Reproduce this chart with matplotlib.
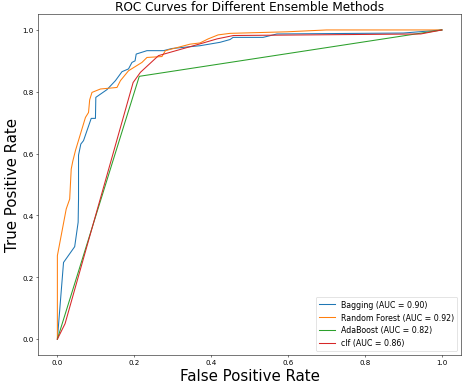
import matplotlib
matplotlib.use('Agg')
import matplotlib.pyplot as plt

# ROC points
bag_fpr = [0.0, 0.016, 0.045, 0.054, 0.055, 0.055, 0.061, 0.068, 0.073, 0.088, 0.099, 0.100, 0.129,
           0.151, 0.168, 0.185, 0.194, 0.202, 0.205, 0.233, 0.276, 0.298, 0.371, 0.423, 0.449,
           0.457, 0.535, 0.571, 0.900, 1.0]
bag_tpr = [0.0, 0.248, 0.299, 0.378, 0.453, 0.595, 0.631, 0.642, 0.660, 0.714, 0.714, 0.782, 0.807,
           0.836, 0.865, 0.874, 0.895, 0.900, 0.922, 0.933, 0.933, 0.940, 0.949, 0.960, 0.969,
           0.976, 0.976, 0.987, 0.990, 1.0]

rf_fpr = [0.0, 0.0, 0.023, 0.032, 0.036, 0.040, 0.047, 0.073, 0.081, 0.084, 0.090, 0.112, 0.155,
          0.164, 0.185, 0.220, 0.233, 0.272, 0.281, 0.345, 0.371, 0.392, 0.418, 0.449, 0.597,
          0.700, 1.0]
rf_tpr = [0.0, 0.270, 0.421, 0.453, 0.550, 0.575, 0.610, 0.717, 0.733, 0.774, 0.798, 0.809, 0.814,
          0.836, 0.868, 0.895, 0.911, 0.914, 0.933, 0.954, 0.958, 0.971, 0.984, 0.989, 0.994,
          1.0, 1.0]

ada_fpr = [0.0, 0.213, 1.0]
ada_tpr = [0.0, 0.850, 1.0]

clf_fpr = [0.0, 0.020, 0.197, 0.216, 0.263, 0.371, 0.415, 0.458, 0.945, 1.0]
clf_tpr = [0.0, 0.050, 0.830, 0.863, 0.917, 0.955, 0.971, 0.982, 0.987, 1.0]

names = ['Bagging', 'Random Forest', 'AdaBoost', 'clf']
aucs = [0.90, 0.92, 0.82, 0.86]

fig, ax = plt.subplots(figsize=(10, 8.15), dpi=47.1)
curves = [(bag_fpr, bag_tpr), (rf_fpr, rf_tpr), (ada_fpr, ada_tpr), (clf_fpr, clf_tpr)]
for (fpr, tpr), name, auc in zip(curves, names, aucs):
    ax.plot(fpr, tpr, lw=1.6, label=f'{name} (AUC = {auc:.2f})')

ax.set_xlabel('False Positive Rate', fontsize=23)
ax.set_ylabel('True Positive Rate', fontsize=23)
ax.set_title('ROC Curves for Different Ensemble Methods', fontsize=18.5)
ax.tick_params(labelsize=11)
ax.legend(loc='lower right', fontsize=12)
fig.subplots_adjust(left=0.081, right=0.979, bottom=0.074, top=0.960)
fig.savefig('out.png', dpi=47.1)
